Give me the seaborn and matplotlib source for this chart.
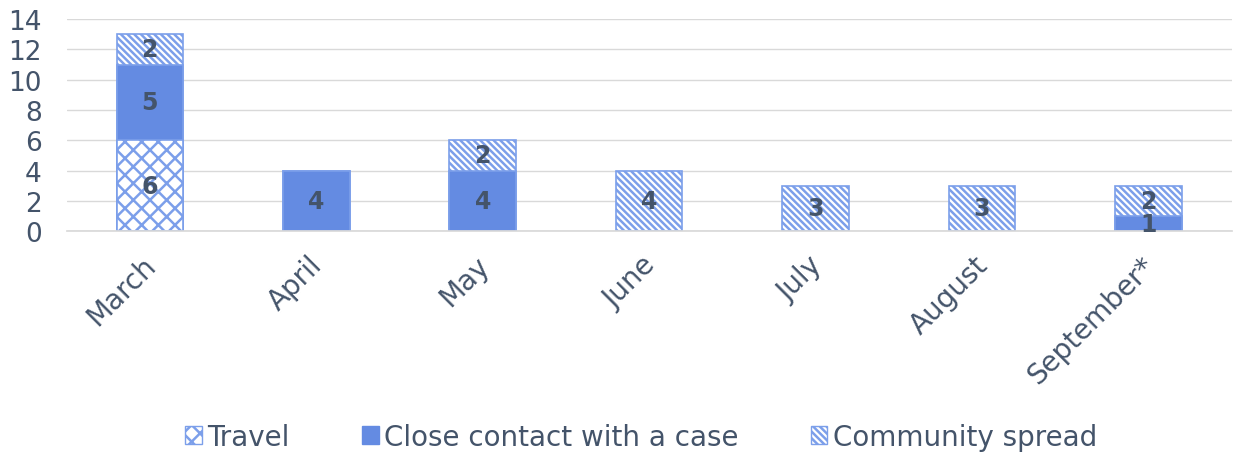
import matplotlib
matplotlib.use("Agg")
import matplotlib.pyplot as plt
import matplotlib.transforms as mtrans
import numpy as np
import pandas as pd
import seaborn as sns
from matplotlib.patches import Patch

months = ["March", "April", "May", "June", "July", "August", "September*"]
travel = [6, 0, 0, 0, 0, 0, 0]
close_contact = [5, 4, 4, 0, 0, 0, 1]
community = [2, 0, 2, 4, 3, 3, 2]
series_names = ["Travel", "Close contact with a case", "Community spread"]

blue = "#648BE2"
edge = "#7C9FEA"
text_col = "#44546A"

sns.set_theme(style="white")
plt.rcParams["font.family"] = ["DejaVu Sans"]
plt.rcParams["hatch.linewidth"] = 1.8
plt.rcParams["hatch.color"] = blue

df = pd.DataFrame({"month": months, "travel": travel,
                   "close": close_contact, "community": community})
df["tc"] = df["travel"] + df["close"]
df["total"] = df["tc"] + df["community"]

fig, ax = plt.subplots(figsize=(12.33, 4.56), dpi=100)
fig.subplots_adjust(left=0.054, right=0.999, top=0.956, bottom=0.491)

# draw cumulative layers, top layer first so lower ones cover it
layers = [("total", "white", "\\\\\\\\\\"), ("tc", blue, None), ("travel", "white", "xx")]
for col, fc, hatch in layers:
    n_before = len(ax.patches)
    sns.barplot(data=df, x="month", y=col, color=fc, width=0.4,
                edgecolor=edge, linewidth=1.2, saturation=1, ax=ax)
    for p in ax.patches[n_before:]:
        p.set_facecolor(fc)
        if hatch:
            p.set_hatch(hatch)
        if p.get_height() == 0:
            p.set_linewidth(0)

# segment labels
for i in range(len(months)):
    bottom = 0
    for v in (travel[i], close_contact[i], community[i]):
        if v > 0:
            ax.text(i, bottom + v / 2, str(v), ha="center", va="center",
                    fontsize=17, fontweight="bold", color=text_col)
        bottom += v

ax.set_ylim(0, 14)
ax.set_xlim(-0.5, 6.5)
ax.set_yticks(range(0, 15, 2))
ax.yaxis.grid(True, color="#D9D9D9", linewidth=1)
ax.set_axisbelow(True)
for s in ["top", "right", "left"]:
    ax.spines[s].set_visible(False)
ax.spines["bottom"].set_color("#D9D9D9")
ax.set_xlabel("")
ax.set_ylabel("")
ax.tick_params(axis="y", labelsize=19, labelcolor=text_col, length=0, pad=18)
ax.tick_params(axis="x", labelsize=20, labelcolor=text_col, length=0, pad=14)
shift = mtrans.ScaledTranslation(-8 / 100, 0, fig.dpi_scale_trans)
for lab in ax.get_xticklabels():
    lab.set_rotation(45)
    lab.set_ha("right")
    lab.set_rotation_mode("anchor")
    lab.set_transform(lab.get_transform() + shift)

handles = [Patch(facecolor="white", edgecolor=edge, hatch="xx"),
           Patch(facecolor=blue, edgecolor=blue),
           Patch(facecolor="white", edgecolor=edge, hatch="\\\\\\\\\\")]
leg = fig.legend(handles, series_names, loc="center", bbox_to_anchor=(0.52, 0.04),
                 ncol=3, frameon=False, fontsize=20, handlelength=0.6,
                 handleheight=0.6, handletextpad=0.2, columnspacing=2.6)
for t in leg.get_texts():
    t.set_color(text_col)

fig.savefig("out.png", dpi=100)
